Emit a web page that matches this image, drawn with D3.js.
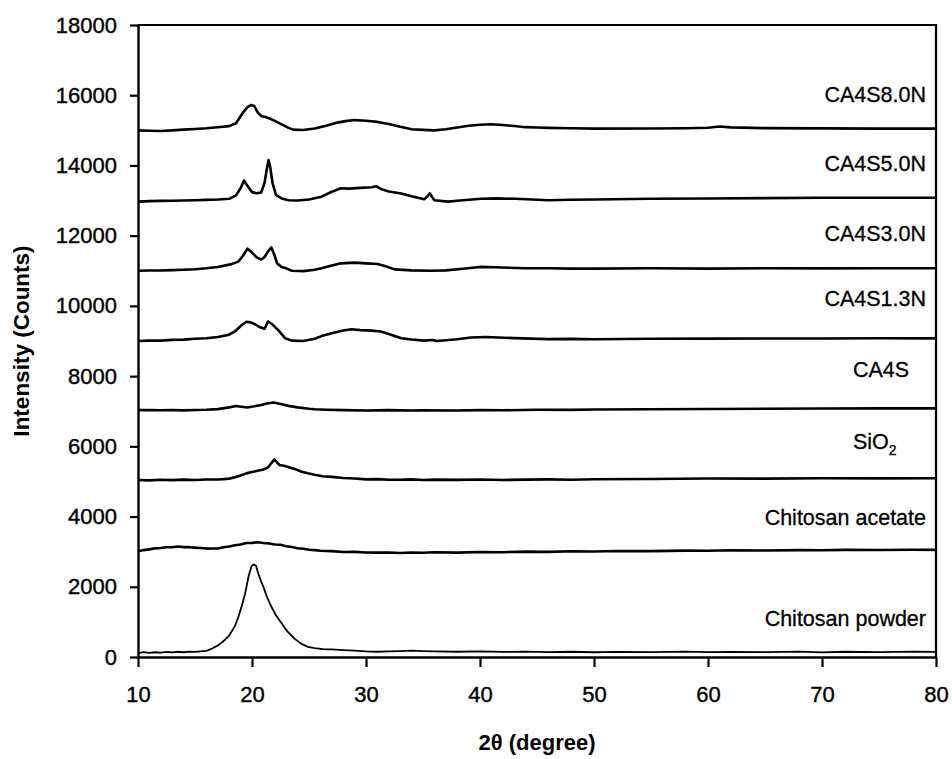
<!DOCTYPE html>
<html>
<head>
<meta charset="utf-8">
<script src="https://cdn.jsdelivr.net/npm/d3@7/dist/d3.min.js"></script>
<style>
  html, body { margin: 0; padding: 0; background: #fff; }
  svg { display: block; }
  text { font-family: Arial, "Liberation Sans", sans-serif; fill: #000; }
</style>
</head>
<body>
<svg id="chart" width="952" height="759"></svg>
<script>
// ---------------- DATA ----------------
const seriesNames = ["Chitosan powder", "Chitosan acetate", "SiO2", "CA4S",
                     "CA4S1.3N", "CA4S3.0N", "CA4S5.0N", "CA4S8.0N"];

const xTicks = [10, 20, 30, 40, 50, 60, 70, 80];
const yTicks = [0, 2000, 4000, 6000, 8000, 10000, 12000, 14000, 16000, 18000];

// [2theta, counts]
const chitosanPowder = [
  [10,110],[10.5,140],[11,120],[11.5,135],[12,125],[12.5,145],[13,130],[13.5,150],[14,135],[14.5,155],
  [15,145],[15.5,160],[16,175],[16.5,240],[17,330],[17.5,450],[18,610],[18.5,880],[18.8,1140],[19.1,1450],
  [19.4,1810],[19.7,2300],[19.95,2580],[20.15,2640],[20.35,2600],[20.55,2380],[20.8,2150],[21,2000],
  [21.3,1720],[21.7,1430],[22.1,1190],[22.6,960],[23.1,730],[23.7,530],[24.3,380],[24.9,290],[25.5,250],
  [26.2,225],[27,215],[28,195],[29,180],[30,160],[31,150],[32,158],[33,170],[34,182],[35,170],[36,160],
  [38,150],[40,162],[42,145],[44,152],[46,140],[48,150],[50,135],[52,148],[55,140],[58,152],[60,136],
  [62,148],[65,140],[68,152],[70,132],[72,150],[75,140],[78,152],[80,145]
];

const chitosanAcetate = [
  [10,3010],[10.5,3045],[11,3065],[11.5,3095],[12,3105],[12.5,3125],[13,3125],[13.5,3145],[14,3130],
  [14.5,3128],[15,3115],[15.5,3105],[16,3088],[16.5,3090],[17,3092],[17.5,3125],[18,3148],[18.5,3185],
  [19,3205],[19.5,3245],[20,3250],[20.5,3268],[21,3248],[21.5,3235],[22,3205],[22.5,3195],[23,3155],
  [23.5,3135],[24,3098],[24.5,3085],[25,3055],[25.5,3045],[26,3025],[27,3015],[28,2990],[29,2995],
  [30,2978],[31,2972],[32,2978],[33,2962],[34,2978],[35,2968],[36,2985],[38,2972],[40,2990],[42,2985],
  [44,3000],[46,2995],[48,3010],[50,3005],[52,3020],[55,3015],[58,3030],[60,3025],[62,3040],[65,3035],
  [68,3045],[70,3040],[72,3052],[75,3048],[78,3055],[80,3050]
];

const sio2 = [
  [10,5040],[11,5030],[12,5050],[13,5038],[14,5052],[15,5042],[16,5055],[17,5055],[17.5,5065],[18,5080],
  [18.5,5120],[19,5170],[19.5,5230],[20,5270],[20.5,5305],[21,5340],[21.4,5400],[21.7,5520],[21.95,5630],
  [22.15,5560],[22.4,5470],[22.8,5445],[23.3,5400],[23.8,5350],[24.3,5285],[24.9,5232],[25.5,5190],
  [26.2,5150],[27,5130],[28,5100],[29,5085],[30,5060],[31,5065],[32,5048],[33,5050],[34,5058],[35,5042],
  [36,5052],[38,5045],[40,5055],[42,5042],[44,5052],[46,5058],[48,5050],[50,5062],[55,5068],[60,5082],
  [65,5080],[70,5092],[75,5088],[80,5090]
];

const ca4s = [
  [10,7030],[11,7035],[12,7028],[13,7035],[14,7025],[15,7035],[16,7042],[17,7060],[18,7110],[18.6,7150],
  [19.2,7122],[19.6,7105],[20.2,7140],[20.8,7180],[21.3,7220],[21.9,7250],[22.4,7210],[23.2,7152],
  [24,7110],[25,7070],[25.5,7055],[26.5,7042],[28,7030],[30,7022],[32,7032],[34,7020],[35,7025],[38,7022],
  [40,7032],[42,7028],[45,7040],[48,7038],[50,7048],[55,7055],[60,7062],[65,7070],[70,7078],[75,7080],[80,7082]
];

const ca4s13n = [
  [10,9000],[11,9012],[12,9012],[13,9032],[14,9040],[15,9062],[16,9078],[17,9112],[17.9,9170],[18.5,9270],
  [19.1,9455],[19.5,9550],[19.9,9530],[20.3,9470],[20.7,9390],[21.1,9350],[21.4,9555],[21.8,9470],
  [22.3,9310],[22.9,9080],[23.5,9010],[24.5,9000],[25.5,9062],[26.1,9140],[27,9220],[28,9300],
  [28.7,9335],[29.5,9310],[30.5,9295],[31.3,9270],[32.2,9180],[33.1,9080],[34,9042],[35.1,9010],
  [35.8,9030],[36.2,9000],[37,9022],[38,9048],[39.2,9100],[40.5,9112],[41.6,9098],[43,9082],[46,9052],
  [48,9060],[50,9048],[55,9062],[60,9068],[65,9072],[70,9072],[75,9078],[80,9076]
];

const ca4s30n = [
  [10,11000],[11,11008],[12,11010],[13,11020],[14,11030],[15,11045],[16,11070],[17,11110],[18.2,11190],
  [18.8,11260],[19.2,11420],[19.6,11630],[20,11520],[20.4,11380],[20.8,11320],[21.1,11390],[21.4,11550],
  [21.7,11665],[22,11420],[22.2,11210],[22.6,11110],[23,11070],[23.5,11000],[24.5,10990],
  [25.5,11030],[26.1,11070],[27,11150],[27.8,11212],[29,11232],[30,11212],[31,11192],[31.8,11120],
  [32.5,11040],[34,11012],[35.7,11000],[37,11012],[38.5,11060],[40.1,11110],[42,11092],[44,11070],
  [46,11072],[48,11060],[50,11062],[55,11070],[60,11060],[65,11072],[70,11068],[75,11072],[80,11070]
];

const ca4s50n = [
  [10,12970],[11,12985],[12,12990],[13,12995],[14,13000],[15,13010],[16,13020],[17,13030],[18,13050],
  [18.6,13150],[19,13350],[19.3,13570],[19.6,13420],[20,13240],[20.4,13210],[20.8,13230],[21.1,13500],
  [21.3,13900],[21.45,14150],[21.6,13950],[21.8,13500],[22.1,13160],[22.6,13060],[23.2,13010],[24,13000],
  [25,13030],[26.1,13110],[27,13250],[27.8,13350],[28.5,13340],[29.5,13362],[30.5,13380],[30.9,13410],
  [31.3,13330],[32,13260],[33.1,13200],[34,13120],[35.1,13040],[35.4,13120],[35.6,13210],[35.8,13100],
  [36,13010],[37.2,12970],[38.5,13010],[40.1,13050],[41.5,13062],[43.1,13050],[46,13010],[48,13022],
  [50,13030],[55,13050],[60,13060],[65,13070],[70,13080],[75,13078],[80,13080]
];

const ca4s80n = [
  [10,15000],[11,14990],[12,14980],[13,15000],[14,15020],[15,15040],[16,15060],[17,15090],[18,15120],
  [18.6,15200],[19.2,15500],[19.6,15660],[19.9,15720],[20.2,15690],[20.5,15510],[20.8,15410],[21.2,15380],
  [21.6,15330],[22,15270],[22.6,15170],[23.2,15070],[23.6,15020],[24.5,15010],[25.5,15050],[26.5,15130],
  [27.5,15220],[28.2,15262],[29,15292],[30,15272],[31,15240],[32,15180],[33,15100],[34,15030],[35,15012],
  [36,15000],[37,15030],[38,15080],[39,15130],[40,15160],[41,15172],[42,15150],[43,15122],[44,15090],
  [45,15080],[46,15070],[48,15060],[50,15050],[55,15052],[58,15060],[60,15075],[61,15110],[62,15085],
  [65,15062],[70,15055],[75,15050],[80,15050]
];

const seriesData = [chitosanPowder, chitosanAcetate, sio2, ca4s, ca4s13n, ca4s30n, ca4s50n, ca4s80n];

// ---------------- LAYOUT ----------------
const svg = d3.select("#chart");
const mLeft = 138, mRight = 936, mTop = 25, mBottom = 657;

const x = d3.scaleLinear().domain([10, 80]).range([mLeft, mRight]);
const y = d3.scaleLinear().domain([0, 18000]).range([mBottom, mTop]);

// frame (top and right)
svg.append("path")
  .attr("d", `M${mLeft},${mTop}H${mRight}V${mBottom}`)
  .attr("fill", "none").attr("stroke", "#000").attr("stroke-width", 2.2);

// traces
const line = d3.line().x(d => x(d[0])).y(d => y(d[1]));
seriesData.forEach((s, i) => {
  svg.append("path")
    .datum(s)
    .attr("d", line)
    .attr("fill", "none")
    .attr("stroke", "#000")
    .attr("stroke-width", i === 0 ? 1.8 : 2.6)
    .attr("stroke-linejoin", "round");
});

// axes
const yAxis = svg.append("g")
  .attr("transform", `translate(${mLeft},0)`)
  .call(d3.axisLeft(y).tickValues(yTicks).tickFormat(d3.format("d")).tickSize(8).tickSizeOuter(0).tickPadding(13));
const xAxis = svg.append("g")
  .attr("transform", `translate(0,${mBottom})`)
  .call(d3.axisBottom(x).tickValues(xTicks).tickFormat(d3.format("d")).tickSize(10).tickSizeOuter(0).tickPadding(19));

[yAxis, xAxis].forEach(g => {
  g.select(".domain").attr("stroke-width", 2.4);
  g.selectAll(".tick line").attr("stroke-width", 2.2);
  g.selectAll(".tick text").attr("font-size", 22)
    .attr("font-family", "Arial, 'Liberation Sans', sans-serif")
    .attr("stroke", "#000").attr("stroke-width", 0.4);
});

// series labels
const labelFont = 21.5;
const labelSpec = [
  { name: seriesNames[0], x: 926, y: 626, anchor: "end" },
  { name: seriesNames[1], x: 926, y: 525, anchor: "end" },
  { name: seriesNames[2], x: 853, y: 449, anchor: "start" },
  { name: seriesNames[3], x: 853, y: 377, anchor: "start" },
  { name: seriesNames[4], x: 926, y: 306, anchor: "end" },
  { name: seriesNames[5], x: 926, y: 241, anchor: "end" },
  { name: seriesNames[6], x: 926, y: 171, anchor: "end" },
  { name: seriesNames[7], x: 926, y: 102, anchor: "end" }
];
labelSpec.forEach(l => {
  const t = svg.append("text")
    .attr("x", l.x).attr("y", l.y)
    .attr("text-anchor", l.anchor)
    .attr("font-size", labelFont)
    .attr("stroke", "#000").attr("stroke-width", 0.3);
  if (l.name === "SiO2") {
    t.append("tspan").text("SiO");
    t.append("tspan").text("2").attr("font-size", 14).attr("dy", 6);
  } else {
    t.text(l.name);
  }
});

// axis titles
svg.append("text")
  .attr("x", (mLeft + mRight) / 2).attr("y", 750)
  .attr("text-anchor", "middle")
  .attr("font-size", 22).attr("font-weight", "bold")
  .text("2θ (degree)");

svg.append("text")
  .attr("transform", `translate(29,${(mTop + mBottom) / 2}) rotate(-90)`)
  .attr("text-anchor", "middle")
  .attr("font-size", 22.5).attr("font-weight", "bold")
  .text("Intensity (Counts)");
</script>
</body>
</html>
